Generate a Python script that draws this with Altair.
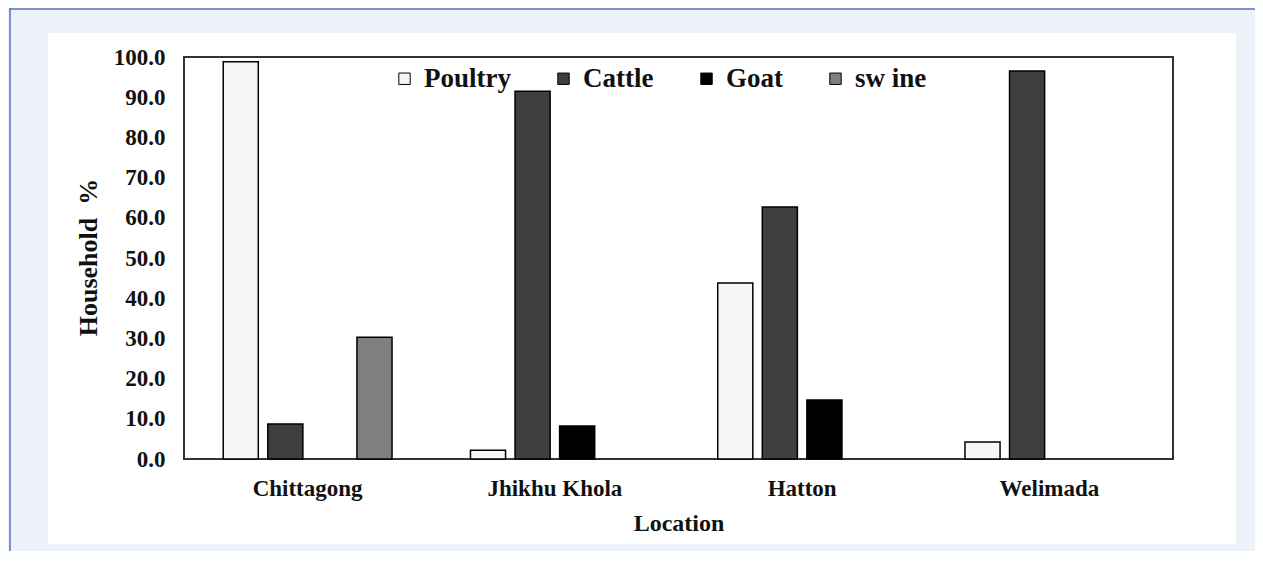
import altair as alt
import pandas as pd

locations = ["Chittagong", "Jhikhu Khola", "Hatton", "Welimada"]
animals = ["Poultry", "Cattle", "Goat", "sw ine"]
poultry = [98.8, 2.2, 43.8, 4.2]
cattle = [8.7, 91.5, 62.7, 96.5]
goat = [0.0, 8.2, 14.7, 0.0]
swine = [30.3, 0.0, 0.0, 0.0]
y_ticks = [0, 10, 20, 30, 40, 50, 60, 70, 80, 90, 100]
fills = ["#f6f6f6", "#3f3f3f", "#000000", "#7f7f7f"]

rows = []
for i, loc in enumerate(locations):
    for name, series in zip(animals, [poultry, cattle, goat, swine]):
        rows.append({"Location": loc, "Animal": name, "Value": series[i]})
df = pd.DataFrame(rows)
one = pd.DataFrame({"k": [0]})

FONT = "Liberation Serif"
PAGE = "#edf1f9"
LINE = "#5a6bc4"


def strip(x, x2, y, y2):
    return alt.Chart(one).mark_rect(fill=PAGE, stroke=None).encode(
        x=alt.value(x), x2=alt.value(x2), y=alt.value(y), y2=alt.value(y2)
    )


strips = [
    strip(-176, 1071, -49, -24),
    strip(-176, 1071, 487, 494),
    strip(-176, -136, -24, 487),
    strip(1052, 1071, -24, 487),
]
left_line = alt.Chart(one).mark_rule(color=LINE, strokeWidth=1.5).encode(
    x=alt.value(-174), y=alt.value(-49), y2=alt.value(494)
)
top_line = alt.Chart(one).mark_rule(color=LINE, strokeWidth=1.5).encode(
    x=alt.value(-174), x2=alt.value(1071), y=alt.value(-48)
)

bars = alt.Chart(df).transform_filter(alt.datum.Value > 0).mark_bar(
    stroke="#000000", strokeWidth=1.5
).encode(
    x=alt.X(
        "Location:N",
        sort=locations,
        scale=alt.Scale(paddingInner=0, paddingOuter=0),
        axis=alt.Axis(
            title="Location",
            labelAngle=0,
            labelFont=FONT,
            labelFontSize=23,
            labelFontWeight="bold",
            labelColor="#111111",
            labelPadding=18,
            titleFont=FONT,
            titleFontSize=24,
            titleFontWeight="bold",
            titleColor="#111111",
            titleBaseline="middle",
            titleY=64,
            domain=False,
            ticks=False,
            grid=False,
        ),
    ),
    xOffset=alt.XOffset(
        "Animal:N",
        sort=animals,
        scale=alt.Scale(paddingInner=0.213, paddingOuter=0.88),
    ),
    y=alt.Y(
        "Value:Q",
        scale=alt.Scale(domain=[0, 100], nice=False, zero=True),
        axis=alt.Axis(
            title="Household\u00a0\u00a0%",
            values=y_ticks,
            format=".1f",
            labelFont=FONT,
            labelFontSize=23,
            labelFontWeight="bold",
            labelColor="#111111",
            labelPadding=19,
            titleFont=FONT,
            titleFontSize=26,
            titleFontWeight="bold",
            titleColor="#111111",
            titleAngle=270,
            titleAlign="center",
            titleBaseline="middle",
            titleX=-96,
            titleY=200,
            domain=False,
            ticks=False,
            grid=False,
        ),
    ),
    fill=alt.Fill(
        "Animal:N",
        sort=animals,
        scale=alt.Scale(domain=animals, range=fills),
        legend=alt.Legend(
            title=None,
            orient="none",
            legendX=207,
            legendY=8,
            direction="horizontal",
            columns=4,
            symbolType="square",
            symbolSize=130,
            symbolStrokeColor="#000000",
            symbolStrokeWidth=1,
            symbolOpacity=1,
            labelFont=FONT,
            labelFontSize=27,
            labelFontWeight="bold",
            labelColor="#111111",
            labelOffset=6,
            columnPadding=39,
            padding=0,
        ),
    ),
)

chart = alt.layer(*strips, left_line, top_line, bars).properties(
    width=989,
    height=402,
    autosize=alt.AutoSizeParams(type="none"),
    padding={"left": 176, "top": 49, "right": 82, "bottom": 92},
    background="#ffffff",
).configure_view(
    stroke="#333333", strokeWidth=2
)

chart.save("out.html", embed_options={"renderer": "svg", "actions": False})
